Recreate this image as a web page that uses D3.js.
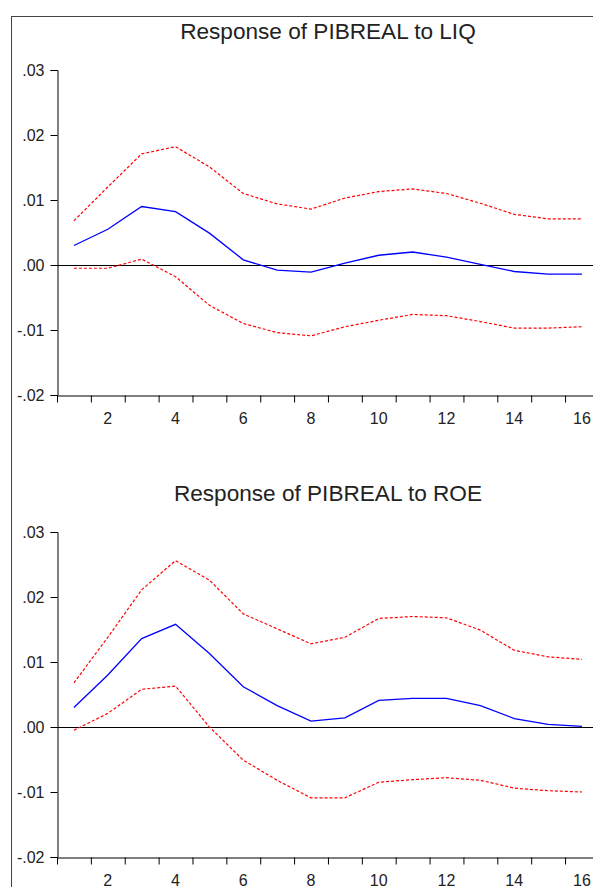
<!DOCTYPE html>
<html>
<head>
<meta charset="utf-8">
<script src="https://cdn.jsdelivr.net/npm/d3@7"></script>
<style>
  html, body { margin: 0; padding: 0; background: #fff; }
  svg { display: block; font-family: "Liberation Sans", Arial, sans-serif; }
</style>
</head>
<body>
<script>
// Impulse responses of PIBREAL, periods 1..16
const periods = d3.range(1, 17);

// Response to LIQ
const liqResp  = [0.0030, 0.0055, 0.0090, 0.0082, 0.0049, 0.0008, -0.0008, -0.0011,
                  0.0003, 0.0015, 0.0020, 0.0012, 0.0001, -0.0010, -0.0014, -0.0014];
const liqUpper = [0.0068, 0.0120, 0.0171, 0.0182, 0.0151, 0.0110, 0.0094, 0.0086,
                  0.0103, 0.0113, 0.0117, 0.0110, 0.0095, 0.0078, 0.0071, 0.0071];
const liqLower = [-0.0005, -0.0005, 0.0009, -0.0018, -0.0062, -0.0090, -0.0104, -0.0109,
                  -0.0095, -0.0085, -0.0076, -0.0078, -0.0087, -0.0097, -0.0097, -0.0095];

// Response to ROE
const roeResp  = [0.0030, 0.0080, 0.0136, 0.0158, 0.0113, 0.0062, 0.0033, 0.0009,
                  0.0014, 0.0041, 0.0044, 0.0044, 0.0033, 0.0013, 0.0004, 0.0001];
const roeUpper = [0.0068, 0.0138, 0.0211, 0.0256, 0.0226, 0.0174, 0.0151, 0.0128,
                  0.0138, 0.0167, 0.0170, 0.0168, 0.0149, 0.0118, 0.0108, 0.0104];
const roeLower = [-0.0005, 0.0021, 0.0058, 0.0063, 0.0000, -0.0051, -0.0082, -0.0109,
                  -0.0109, -0.0085, -0.0081, -0.0078, -0.0082, -0.0094, -0.0098, -0.0100];

const yTicks = [0.03, 0.02, 0.01, 0.00, -0.01, -0.02];
const yTickLabels = [".03", ".02", ".01", ".00", "-.01", "-.02"];
const xTickLabels = [2, 4, 6, 8, 10, 12, 14, 16];

const panels = [
  { title: "Response of PIBREAL to LIQ", resp: liqResp, upper: liqUpper, lower: liqLower },
  { title: "Response of PIBREAL to ROE", resp: roeResp, upper: roeUpper, lower: roeLower }
];

const W = 593, H = 887;
const svg = d3.select("body").append("svg").attr("width", W).attr("height", H);

// outer frame
svg.append("rect")
  .attr("x", 11.5).attr("y", 16.5)
  .attr("width", W + 20).attr("height", H + 20)
  .attr("fill", "none").attr("stroke", "#444").attr("stroke-width", 1);

const left = 57, bandW = 33.87;
const x = d3.scaleLinear().domain([0.5, 16.5]).range([left, left + 16 * bandW]);

function drawPanel(p, top) {
  const y = d3.scaleLinear().domain([-0.02, 0.03]).range([top + 325, top]);
  const g = svg.append("g");

  g.append("text")
    .attr("x", (left + x(16.5)) / 2).attr("y", top - 31)
    .attr("text-anchor", "middle")
    .attr("font-size", 22.6).attr("fill", "#222")
    .text(p.title);

  // y axis
  const yAxis = d3.axisLeft(y).tickValues(yTicks)
    .tickFormat((d, i) => yTickLabels[i]).tickSize(7).tickPadding(6);
  const ya = g.append("g").attr("transform", `translate(${left + 0.5},0)`).call(yAxis);
  ya.select(".domain").attr("stroke", "#000");
  ya.selectAll(".tick line").attr("stroke", "#000");
  ya.selectAll("text").attr("font-size", 16).attr("fill", "#222")
    .attr("font-family", "Liberation Sans, Arial, sans-serif");

  // x axis: ticks at period boundaries, labels at period centres
  const xAxis = d3.axisBottom(x).tickValues(d3.range(0.5, 17, 1))
    .tickFormat("").tickSize(7).tickSizeOuter(0);
  const xa = g.append("g").attr("transform", `translate(0,${top + 325 + 0.5})`).call(xAxis);
  xa.select(".domain").attr("stroke", "#000");
  xa.selectAll(".tick line").attr("stroke", "#000");

  g.selectAll(".xl").data(xTickLabels).join("text")
    .attr("x", d => x(d)).attr("y", top + 325 + 29)
    .attr("text-anchor", "middle")
    .attr("font-size", 16).attr("fill", "#222")
    .text(d => d);

  // zero line
  g.append("line")
    .attr("x1", left).attr("x2", W)
    .attr("y1", Math.round(y(0)) + 0.5).attr("y2", Math.round(y(0)) + 0.5)
    .attr("stroke", "#000").attr("stroke-width", 1);

  const line = d3.line().x((d, i) => x(periods[i])).y(d => y(d));

  g.append("path").datum(p.upper).attr("d", line)
    .attr("fill", "none").attr("stroke", "#ff0000").attr("stroke-width", 1.2)
    .attr("stroke-dasharray", "3,2");
  g.append("path").datum(p.lower).attr("d", line)
    .attr("fill", "none").attr("stroke", "#ff0000").attr("stroke-width", 1.2)
    .attr("stroke-dasharray", "3,2");
  g.append("path").datum(p.resp).attr("d", line)
    .attr("fill", "none").attr("stroke", "#0000ff").attr("stroke-width", 1.3);
}

drawPanel(panels[0], 70);
drawPanel(panels[1], 532);
</script>
</body>
</html>
